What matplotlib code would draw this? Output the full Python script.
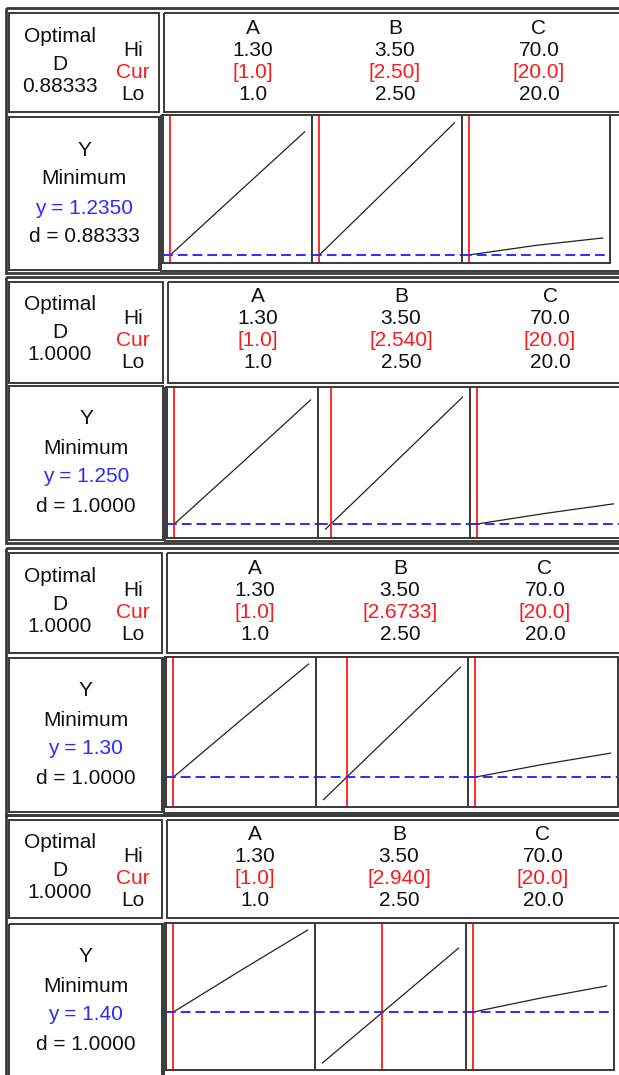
import matplotlib.pyplot as plt
from matplotlib.patches import Rectangle

plt.rcParams['font.family'] = ['Liberation Sans', 'DejaVu Sans']

factors = ['A', 'B', 'C']
hi_text = ['1.30', '3.50', '70.0']
lo_text = ['1.0', '2.50', '20.0']
lo_vals = [1.0, 2.50, 20.0]
hi_vals = [1.30, 3.50, 70.0]

cur_vals = [[1.0, 2.50, 20.0],
            [1.0, 2.540, 20.0],
            [1.0, 2.6733, 20.0],
            [1.0, 2.940, 20.0]]
cur_text = [['[1.0]', '[2.50]', '[20.0]'],
            ['[1.0]', '[2.540]', '[20.0]'],
            ['[1.0]', '[2.6733]', '[20.0]'],
            ['[1.0]', '[2.940]', '[20.0]']]
D_text = ['0.88333', '1.0000', '1.0000', '1.0000']
y_opt = [1.2350, 1.250, 1.30, 1.40]
y_text = ['y = 1.2350', 'y = 1.250', 'y = 1.30', 'y = 1.40']
d_text = ['d = 0.88333', 'd = 1.0000', 'd = 1.0000', 'd = 1.0000']

# response trace of Y along each factor (at lo, mid, hi)
x_trace = [[1.0, 1.15, 1.30], [2.5, 3.0, 3.5], [20.0, 45.0, 70.0]]
y_trace = [
    [[1.235, 1.410, 1.584], [1.235, 1.422, 1.610], [1.235, 1.262, 1.283]],
    [[1.250, 1.425, 1.602], [1.235, 1.422, 1.610], [1.250, 1.280, 1.307]],
    [[1.300, 1.462, 1.621], [1.236, 1.424, 1.612], [1.300, 1.336, 1.368]],
    [[1.400, 1.535, 1.667], [1.234, 1.421, 1.608], [1.400, 1.445, 1.485]],
]
y_range = [(1.212, 1.632), (1.210, 1.639), (1.215, 1.641), (1.211, 1.690)]

# ---- pixel layout of each screen ----
W, H = 619, 1075
box_top = [13, 282, 553, 820]
hdr_bot = [112, 383, 653, 918]
low_top = [117, 386, 658, 924]
low_bot = [270, 540, 812, 1080]
lbox_r = [159, 163, 162, 162]
plot_top = [115, 387, 657, 923]
plot_bot = [263, 538, 807, 1070]
plot_x = [[163, 312, 462, 610], [167, 318, 470, 621],
          [166, 316, 468, 618], [166, 315, 466, 614]]
hdr_x = [[253, 395, 539], [258, 401, 550], [255, 400, 545], [255, 399, 543]]

FRAME = '#3a3a3a'
RED = '#ff1a1a'
BLUE = '#2b2bff'
TXT = '#111111'
FS = 15

fig = plt.figure(figsize=(W / 100, H / 100), dpi=100)
bg = fig.add_axes([0, 0, 1, 1])
bg.set_xlim(0, W)
bg.set_ylim(H, 0)
bg.axis('off')


def box(x0, y0, x1, y1, lw=1.4):
    bg.add_patch(Rectangle((x0, y0), x1 - x0, y1 - y0, fill=False,
                           edgecolor=FRAME, lw=lw))


def txt(x, y, s, color=TXT):
    # y is the visual middle of the capitals
    bg.text(x, y + 7.5, s, ha='center', va='baseline', fontsize=FS, color=color)


for p in range(4):
    t = box_top[p]
    # outer border of each screen
    box(6, t - 5, W + 10, low_bot[p] + 3, lw=2.0)
    box(9, t, lbox_r[p], hdr_bot[p])
    box(lbox_r[p] + 5, t, W + 10, hdr_bot[p])
    box(9, low_top[p], lbox_r[p], low_bot[p])
    box(lbox_r[p] + 2, plot_top[p], W + 10, low_bot[p] + 1)

    txt(60, t + 21, 'Optimal')
    txt(60, t + 49, 'D')
    txt(60, t + 71, D_text[p])
    txt(133, t + 35, 'Hi')
    txt(133, t + 57, 'Cur', RED)
    txt(133, t + 79, 'Lo')

    for k in range(3):
        cx = hdr_x[p][k]
        txt(cx, t + 13, factors[k])
        txt(cx, t + 35, hi_text[k])
        txt(cx, t + 57, cur_text[p][k], RED)
        txt(cx, t + 79, lo_text[k])

    lt = low_top[p]
    cx = (9 + lbox_r[p]) / 2
    txt(cx, lt + 31, 'Y')
    txt(cx, lt + 60, 'Minimum')
    txt(cx, lt + 89, y_text[p], BLUE)
    txt(cx, lt + 118, d_text[p])

    # the three factor plots
    for k in range(3):
        x0, x1 = plot_x[p][k], plot_x[p][k + 1]
        ax = fig.add_axes([x0 / W, 1 - plot_bot[p] / H,
                           (x1 - x0) / W, (plot_bot[p] - plot_top[p]) / H])
        span = hi_vals[k] - lo_vals[k]
        ax.set_xlim(lo_vals[k] - 0.055 * span, hi_vals[k] + 0.055 * span)
        ax.set_ylim(*y_range[p])
        ax.plot(x_trace[k], y_trace[p][k], color='#222222', lw=0.9)
        ax.axvline(cur_vals[p][k], color=RED, lw=1.3)
        ax.axhline(y_opt[p], color=BLUE, lw=1.4, dashes=(5, 2.6))
        ax.set_xticks([])
        ax.set_yticks([])
        for s in ax.spines.values():
            s.set_color(FRAME)
            s.set_linewidth(1.4)

fig.savefig('out.png', dpi=100)
